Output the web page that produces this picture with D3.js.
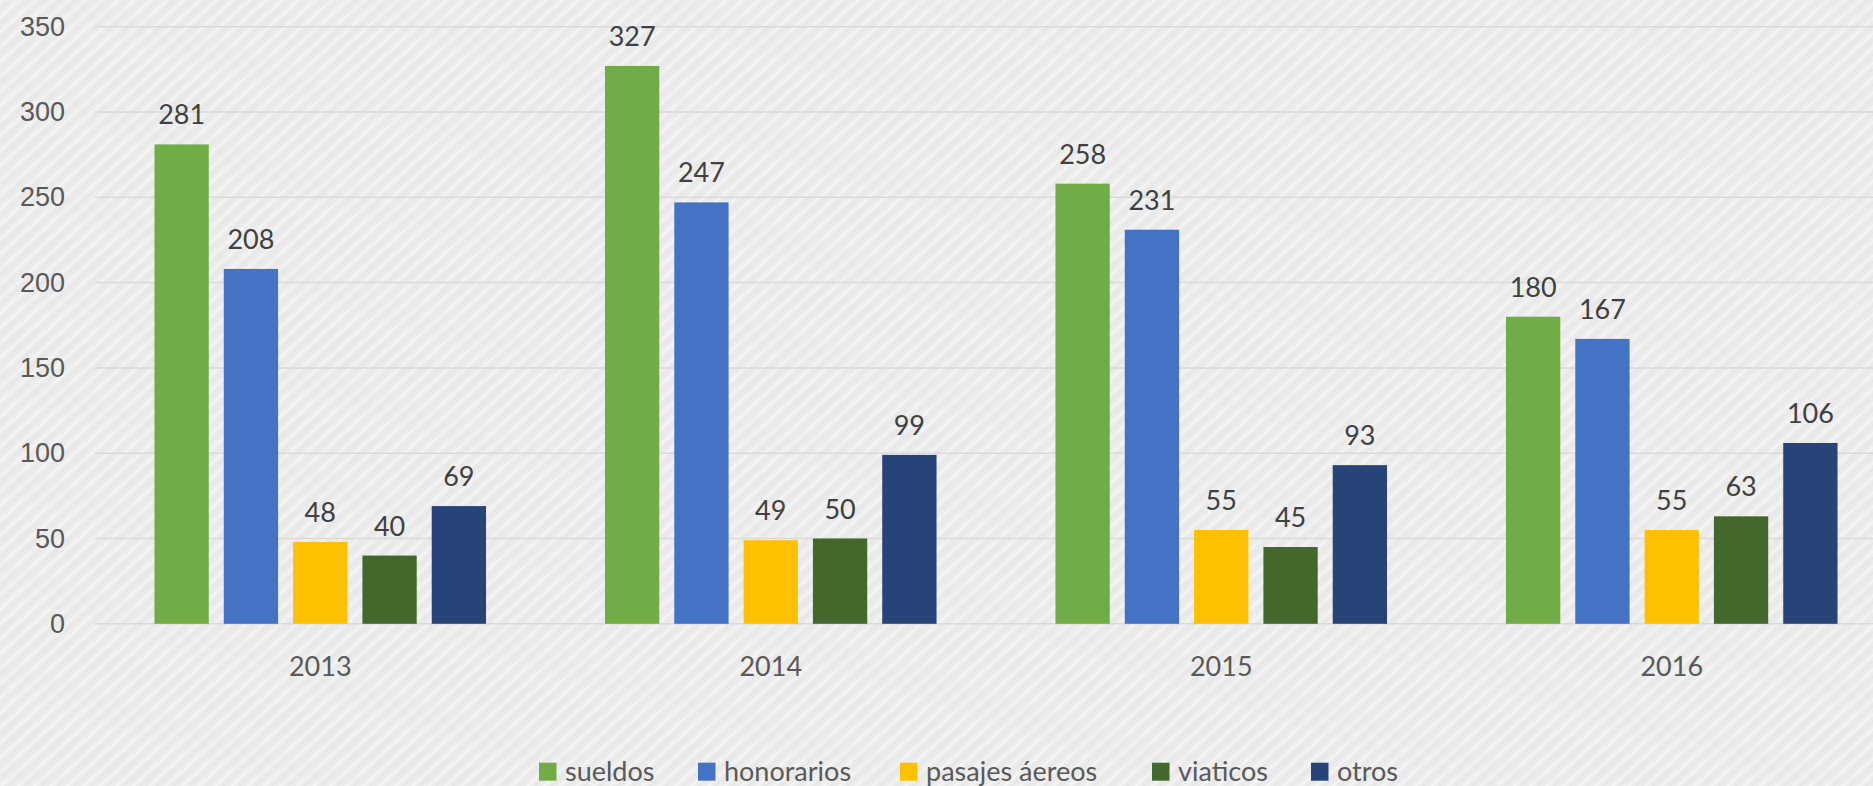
<!DOCTYPE html>
<html>
<head>
<meta charset="utf-8">
<script src="https://cdn.jsdelivr.net/npm/d3@7"></script>
<style>
	body { margin: 0; background: #e9e9e9; overflow: hidden; }
	svg { display: block; font-family: Lato, "Open Sans", sans-serif; }
</style>
</head>
<body>
<div id="viz"></div>
<script>
width = 1873;
height = 786;

// datos
years = ["2013", "2014", "2015", "2016"];
series = ["sueldos", "honorarios", "pasajes áereos", "viaticos", "otros"];
sueldos = [281, 327, 258, 180];
honorarios = [208, 247, 231, 167];
pasajes = [48, 49, 55, 55];
viaticos = [40, 50, 45, 63];
otros = [69, 99, 93, 106];
yTicks = [0, 50, 100, 150, 200, 250, 300, 350];
colors = ["#70AD47", "#4472C4", "#FFC000", "#43682B", "#264478"];

values = [sueldos, honorarios, pasajes, viaticos, otros];

svg = d3.select("#viz").append("svg")
	.attr("width", width)
	.attr("height", height);

// fondo rayado
defs = svg.append("defs");
pat = defs.append("pattern")
	.attr("id", "scratch")
	.attr("patternUnits", "userSpaceOnUse")
	.attr("width", 11)
	.attr("height", 11)
	.attr("patternTransform", "rotate(-42)");
pat.append("rect").attr("width", 11).attr("height", 11).attr("fill", "#ececec");
pat.append("line").attr("x1", 0).attr("y1", 2).attr("x2", 11).attr("y2", 2)
	.attr("stroke", "#f4f4f4").attr("stroke-width", 2.5);
pat.append("line").attr("x1", 0).attr("y1", 7).attr("x2", 11).attr("y2", 7)
	.attr("stroke", "#e2e2e2").attr("stroke-width", 1);

svg.append("rect")
	.attr("width", width)
	.attr("height", height)
	.attr("fill", "url(#scratch)");

var x = d3.scaleBand()
	.domain(years)
	.range([95, 1897]);

var xs = d3.scaleBand()
	.domain(d3.range(series.length))
	.range([0, x.bandwidth()])
	.paddingInner(0.2165)
	.paddingOuter(0.858);

var y = d3.scaleLinear()
	.domain([0, 350])
	.range([623.8, 26.7]);

// lineas de grilla
svg.append("g")
	.selectAll("line").data(yTicks).enter().append("line")
	.attr("x1", 95)
	.attr("x2", 1897)
	.attr("y1", function(d) {return y(d);})
	.attr("y2", function(d) {return y(d);})
	.attr("stroke", "#d9d9d9")
	.attr("stroke-width", 1.5);

// eje y
svg.append("g")
	.attr("transform", "translate(65,0)")
	.call(d3.axisLeft(y).tickValues(yTicks).tickSize(0).tickPadding(0))
	.call(function(g) {g.select(".domain").remove();})
	.selectAll("text")
	.attr("fill", "#595959")
	.style("font-size", "27px");

// eje x
svg.append("g")
	.selectAll("text").data(years).enter().append("text")
	.attr("x", function(d) {return x(d) + x.bandwidth() / 2;})
	.attr("y", 676)
	.attr("text-anchor", "middle")
	.attr("fill", "#595959")
	.style("font-size", "27px")
	.text(function(d) {return d;});

// barras
groups = svg.append("g")
	.selectAll("g").data(values).enter().append("g")
	.attr("fill", function(d, i) {return colors[i];});

groups.each(function(vals, si) {
	var g = d3.select(this);
	g.selectAll("rect").data(vals).enter().append("rect")
		.attr("x", function(d, i) {return x(years[i]) + xs(si);})
		.attr("y", function(d) {return y(d);})
		.attr("width", xs.bandwidth())
		.attr("height", function(d) {return y(0) - y(d);});

	g.selectAll("text").data(vals).enter().append("text")
		.attr("x", function(d, i) {return x(years[i]) + xs(si) + xs.bandwidth() / 2;})
		.attr("y", function(d) {return y(d) - 20;})
		.attr("text-anchor", "middle")
		.attr("fill", "#404040")
		.style("font-size", "27px")
		.text(function(d) {return d;});
});

// leyenda
legendX = [539, 698, 900, 1152, 1311];
legend = svg.append("g").selectAll("g").data(series).enter().append("g")
	.attr("transform", function(d, i) {return "translate(" + legendX[i] + ",762.7)";});

legend.append("rect")
	.attr("width", 17.5)
	.attr("height", 18)
	.attr("fill", function(d, i) {return colors[i];});

legend.append("text")
	.attr("x", 26)
	.attr("y", 18)
	.attr("fill", "#595959")
	.style("font-size", "27px")
	.text(function(d) {return d;});
</script>
</body>
</html>
